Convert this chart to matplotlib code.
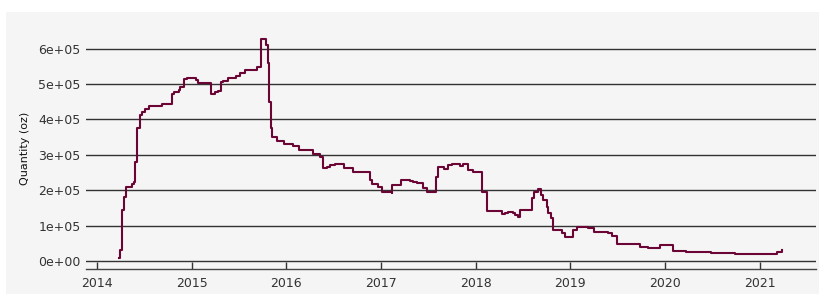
import matplotlib
matplotlib.use("Agg")
import matplotlib.pyplot as plt
import pandas as pd
from matplotlib.patches import Rectangle

dates = [
    "2014-03-28", "2014-04-02", "2014-04-07", "2014-04-15", "2014-04-23", "2014-05-08",
    "2014-05-15", "2014-05-26", "2014-05-29", "2014-06-04", "2014-06-15", "2014-06-17",
    "2014-06-25", "2014-07-05", "2014-07-22", "2014-09-07", "2014-09-09", "2014-10-13",
    "2014-10-17", "2014-10-26", "2014-11-13", "2014-11-18", "2014-12-01", "2014-12-03",
    "2014-12-13", "2015-01-16", "2015-01-20", "2015-01-26", "2015-03-13", "2015-03-16",
    "2015-04-01", "2015-04-14", "2015-04-24", "2015-05-03", "2015-05-22", "2015-06-21",
    "2015-07-06", "2015-07-26", "2015-09-09", "2015-09-11", "2015-09-25", "2015-09-27",
    "2015-10-11", "2015-10-15", "2015-10-21", "2015-10-26", "2015-11-02", "2015-11-09",
    "2015-11-21", "2015-11-25", "2015-12-20", "2015-12-24", "2016-01-24", "2016-01-28",
    "2016-02-12", "2016-02-19", "2016-04-05", "2016-04-14", "2016-05-07", "2016-05-12",
    "2016-05-22", "2016-06-05", "2016-06-17", "2016-07-07", "2016-08-07", "2016-08-11",
    "2016-09-09", "2016-09-15", "2016-11-12", "2016-11-18", "2016-11-27", "2016-12-14",
    "2016-12-20", "2017-01-06", "2017-01-29", "2017-02-11", "2017-02-13", "2017-03-15",
    "2017-03-19", "2017-04-16", "2017-04-22", "2017-05-05", "2017-05-18", "2017-06-07",
    "2017-06-13", "2017-06-26", "2017-07-28", "2017-07-31", "2017-08-07", "2017-08-09",
    "2017-08-27", "2017-09-02", "2017-09-11", "2017-09-17", "2017-10-01", "2017-10-26",
    "2017-11-01", "2017-11-08", "2017-11-14", "2017-11-27", "2017-12-01", "2017-12-17",
    "2017-12-23", "2018-01-17", "2018-01-24", "2018-02-09", "2018-02-14", "2018-04-04",
    "2018-04-13", "2018-04-24", "2018-05-04", "2018-05-20", "2018-05-26", "2018-06-01",
    "2018-06-12", "2018-06-21", "2018-07-29", "2018-08-07", "2018-08-15", "2018-08-30",
    "2018-09-10", "2018-09-18", "2018-10-01", "2018-10-08", "2018-10-17", "2018-10-24",
    "2018-11-15", "2018-11-28", "2018-12-11", "2019-01-06", "2019-01-12", "2019-01-25",
    "2019-03-05", "2019-03-11", "2019-03-26", "2019-04-02", "2019-05-14", "2019-05-27",
    "2019-06-09", "2019-06-19", "2019-06-28", "2019-09-19", "2019-09-26", "2019-10-22",
    "2019-10-26", "2019-12-05", "2019-12-12", "2020-01-19", "2020-02-01", "2020-03-17",
    "2020-03-21", "2020-06-21", "2020-06-26", "2020-09-19", "2020-09-25", "2020-12-05",
    "2020-12-11", "2021-02-28", "2021-03-07", "2021-03-19", "2021-03-28",
]
quantity = [
    9000, 31000, 144000, 182000, 208000, 210000,
    217000, 222000, 280000, 375000, 375000, 412000,
    420000, 429000, 438000, 438000, 443000, 443000,
    472000, 478000, 483000, 491000, 491000, 513000,
    517000, 516000, 511000, 503000, 503000, 472000,
    478000, 480000, 505000, 508000, 516000, 523000,
    530000, 540000, 540000, 549000, 549000, 627000,
    627000, 610000, 558000, 450000, 375000, 351000,
    351000, 339000, 339000, 330000, 330000, 326000,
    326000, 313000, 313000, 302000, 302000, 293000,
    262000, 265000, 271000, 274000, 274000, 262000,
    262000, 251000, 251000, 229000, 217000, 217000,
    210000, 196000, 196000, 191000, 215000, 215000,
    229000, 229000, 227000, 224000, 219000, 219000,
    205000, 196000, 196000, 236000, 238000, 266000,
    266000, 259000, 259000, 271000, 274000, 274000,
    268000, 268000, 273000, 273000, 257000, 257000,
    252000, 252000, 196000, 196000, 141000, 141000,
    132000, 135000, 139000, 139000, 135000, 130000,
    125000, 144000, 144000, 177000, 196000, 203000,
    186000, 172000, 153000, 135000, 121000, 88000,
    88000, 78000, 69000, 69000, 88000, 97000,
    97000, 92000, 92000, 83000, 83000, 78000,
    71000, 71000, 47000, 47000, 40000, 40000,
    36000, 36000, 44000, 44000, 28000, 28000,
    26000, 26000, 23000, 23000, 20000, 20000,
    19000, 19000, 24600, 26000, 30000,
]
yticks = [0, 100000, 200000, 300000, 400000, 500000, 600000]
ytick_labels = ["0e+00", "1e+05", "2e+05", "3e+05", "4e+05", "5e+05", "6e+05"]
xtick_years = ["2014", "2015", "2016", "2017", "2018", "2019", "2020", "2021"]

bg = "#f5f5f5"
fig = plt.figure(figsize=(8.19, 2.94), dpi=100)
fig.patch.set_facecolor("white")
fig.patches.append(Rectangle((6 / 819, 0), 1 - 6 / 819, 1 - 12 / 294,
                             transform=fig.transFigure, facecolor=bg,
                             edgecolor="none", zorder=-10))
ax = fig.add_axes([86 / 819, 1 - 268.8 / 294, (816 - 86) / 819, (268.8 - 28.1) / 294])
ax.set_zorder(1)
ax.set_facecolor(bg)

x = pd.to_datetime(dates)
ax.plot(x, quantity, color="#6a0535", lw=1.5, zorder=3, drawstyle="steps-post")

ax.set_yticks(yticks)
ax.set_yticklabels(ytick_labels)
ax.set_ylim(-22000, 658000)
ax.set_xlim(pd.Timestamp("2013-11-20"), pd.Timestamp("2021-08-05"))
ax.set_xticks(pd.to_datetime([y + "-01-01" for y in xtick_years]))
ax.set_xticklabels(xtick_years)

ax.grid(axis="y", color="#333333", lw=1.0)
ax.set_axisbelow(True)
for s in ["top", "right", "left"]:
    ax.spines[s].set_visible(False)
ax.spines["bottom"].set_color("#444444")
ax.spines["bottom"].set_linewidth(1.0)
ax.tick_params(axis="y", length=0, pad=4, labelsize=9, labelcolor="#333333")
ax.tick_params(axis="x", direction="in", length=5, width=1, color="#333333",
               pad=6, labelsize=9, labelcolor="#333333")
ax.set_ylabel("Quantity (oz)", fontsize=8, color="#111111", labelpad=6)

fig.savefig("out.png", dpi=100, facecolor=fig.get_facecolor())
